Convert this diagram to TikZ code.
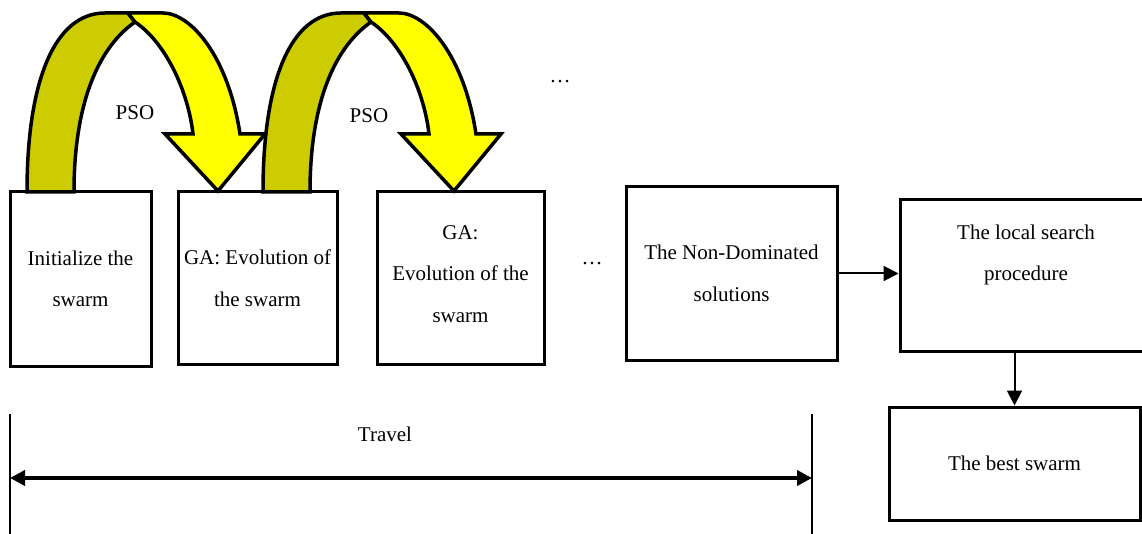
\documentclass[tikz,border=0pt]{standalone}
\usepackage{fontspec}
\setmainfont{Liberation Serif}
\usetikzlibrary{arrows.meta}
\definecolor{arrowback}{RGB}{204,204,0}
\definecolor{arrowfront}{RGB}{255,255,0}

\begin{document}
\begin{tikzpicture}[x=1pt, y=-1pt,
    box/.style={draw, line width=3pt, rectangle, inner sep=0pt, align=center, font=\fontsize{21}{41.5}\selectfont}, % Style for the boxes
    txt/.style={font=\fontsize{21}{41.5}\selectfont, align=center}, % Style for free text
    link/.style={line width=2pt, -{Triangle[length=15pt, width=15pt]}}, % Style for connectors
    curl/.style={draw=black, line width=3.5pt} % Style for the curved arrows
]
\useasboundingbox (0,0) rectangle (1142,534);

% Curved PSO arrows (second one is shifted to the right)
\foreach \s in {0,236} {
  \begin{scope}[shift={(\s,0)}]
    % back part of the arrow
    \filldraw[curl, fill=arrowback]
      (27,192) .. controls (27,80) and (55,13) .. (105,13) -- (128,13)
      .. controls (132,17) .. (135,22)
      .. controls (95,50) and (74,110) .. (74,192) -- cycle;
    % front part with the head
    \filldraw[curl, fill=arrowfront]
      (128,13) -- (163,13) .. controls (190,13) and (228,55) .. (240,134)
      -- (265,134) -- (218,191) -- (165,134) -- (193,134)
      .. controls (188,90) and (165,42) .. (135,22)
      .. controls (132,17) .. (128,13) -- cycle;
  \end{scope}
}

% Boxes
\node[box, minimum width=141pt, minimum height=174pt] (init) at (80.5,279) {Initialize the\\swarm};
\node[box, minimum width=159pt, minimum height=172pt] (ga1) at (257.5,278) {GA: Evolution of\\the swarm};
\node[box, minimum width=167pt, minimum height=172pt] (ga2) at (460.5,278) {};
\node[txt] (ga2text) at (460.5,274) {GA:\\Evolution of the\\swarm};
\node[box, minimum width=211pt, minimum height=173pt] (nd) at (731.5,273.5) {The Non-Dominated\\solutions};
\node[box, minimum width=252pt, minimum height=151pt] (ls) at (1026,275.5) {};
\node[txt] (lstext) at (1026,255) {The local search\\procedure};
\node[box, minimum width=251pt, minimum height=113pt] (bs) at (1014.5,463.5) {The best swarm};

% Labels
\node[txt] (pso1) at (135,113) {PSO};
\node[txt] (pso2) at (369,116) {PSO};
\node[txt] (dots1) at (560,82) {\dots};
\node[txt] (dots2) at (592,264) {\dots};

% Connectors
\draw[link] (nd.east) -- (nd.east -| ls.west);
\draw[link] (ls.south -| bs.north) -- (bs.north);

% Travel span
\coordinate (tl) at (10,478);
\coordinate (tr) at (812,478);
\draw[line width=2.5pt] (10,414) -- (10,534);
\draw[line width=2.5pt] (812,414) -- (812,534);
\draw[line width=4pt, {Triangle[length=15pt, width=15pt]}-{Triangle[length=15pt, width=15pt]}] (tl) -- (tr);
\node[txt] (travel) at (385,434) {Travel};

\end{tikzpicture}
\end{document}
